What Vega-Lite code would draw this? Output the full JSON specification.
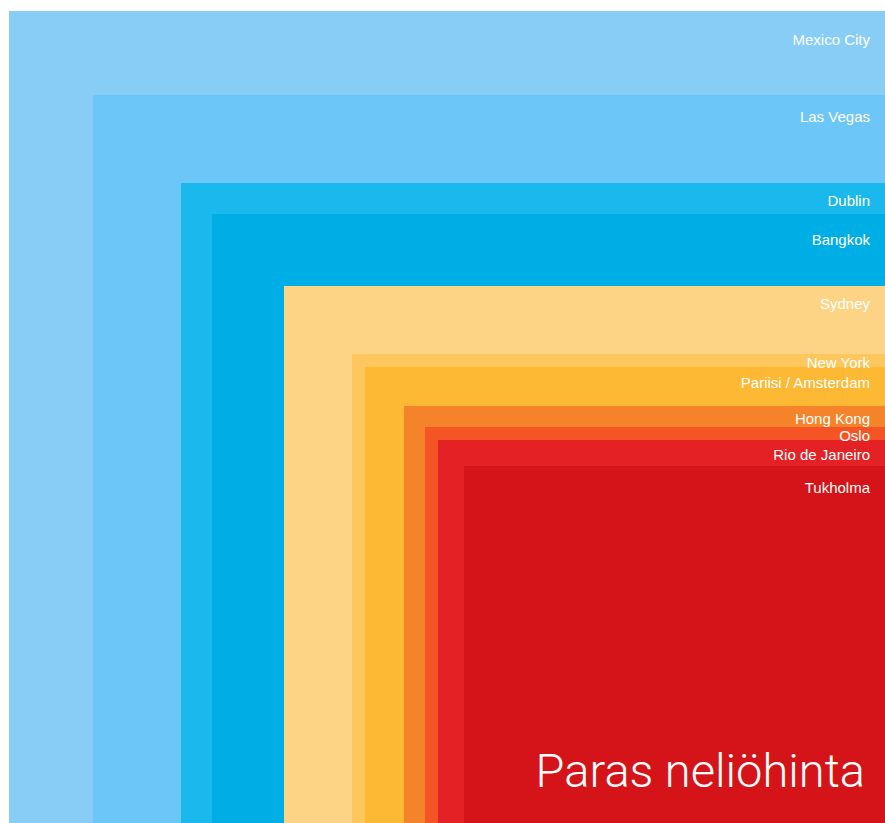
{
  "$schema": "https://vega.github.io/schema/vega-lite/v6.json",
  "autosize": "none",
  "width": 876,
  "height": 812,
  "padding": {"left": 9, "top": 11, "right": 0, "bottom": 0},
  "background": "white",
  "config": {"view": {"stroke": null}},
  "data": {"values": [
    {"kaupunki": "Mexico City", "sivu": 876, "teksti_y": 847},
    {"kaupunki": "Las Vegas", "sivu": 792, "teksti_y": 770},
    {"kaupunki": "Dublin", "sivu": 704, "teksti_y": 686},
    {"kaupunki": "Bangkok", "sivu": 673, "teksti_y": 647},
    {"kaupunki": "Sydney", "sivu": 601, "teksti_y": 583},
    {"kaupunki": "New York", "sivu": 533, "teksti_y": 524},
    {"kaupunki": "Pariisi / Amsterdam", "sivu": 520, "teksti_y": 504},
    {"kaupunki": "Hong Kong", "sivu": 481, "teksti_y": 468},
    {"kaupunki": "Oslo", "sivu": 460, "teksti_y": 451},
    {"kaupunki": "Rio de Janeiro", "sivu": 447, "teksti_y": 432},
    {"kaupunki": "Tukholma", "sivu": 421, "teksti_y": 399}
  ]},
  "layer": [
    {
      "mark": {"type": "rect"},
      "encoding": {
        "x": {"field": "sivu", "type": "quantitative", "scale": {"domain": [0, 876], "reverse": true, "nice": false, "zero": false}, "axis": null},
        "x2": {"datum": 0},
        "y": {"field": "sivu", "type": "quantitative", "scale": {"domain": [64, 876], "nice": false, "zero": false}, "axis": null},
        "y2": {"datum": 64},
        "color": {
          "field": "kaupunki", "type": "nominal", "legend": null,
          "scale": {
            "domain": ["Mexico City", "Las Vegas", "Dublin", "Bangkok", "Sydney", "New York", "Pariisi / Amsterdam", "Hong Kong", "Oslo", "Rio de Janeiro", "Tukholma"],
            "range": ["#87CDF5", "#6CC6F8", "#1BB8EE", "#00AEE6", "#FDD385", "#FDC75E", "#FDB933", "#F5832A", "#F55424", "#E42125", "#D41418"]
          }
        }
      }
    },
    {
      "mark": {"type": "text", "align": "right", "baseline": "middle", "font": "Liberation Sans", "fontSize": 15, "color": "white"},
      "encoding": {
        "x": {"datum": 15, "type": "quantitative"},
        "y": {"field": "teksti_y", "type": "quantitative"},
        "text": {"field": "kaupunki"}
      }
    },
    {
      "data": {"values": [{"otsikko": "Paras neliöhinta"}]},
      "mark": {"type": "text", "align": "right", "baseline": "alphabetic", "font": "Roboto", "fontWeight": 300, "fontSize": 47, "color": "white"},
      "encoding": {
        "x": {"datum": 20, "type": "quantitative"},
        "y": {"datum": 100, "type": "quantitative"},
        "text": {"field": "otsikko"}
      }
    }
  ]
}
